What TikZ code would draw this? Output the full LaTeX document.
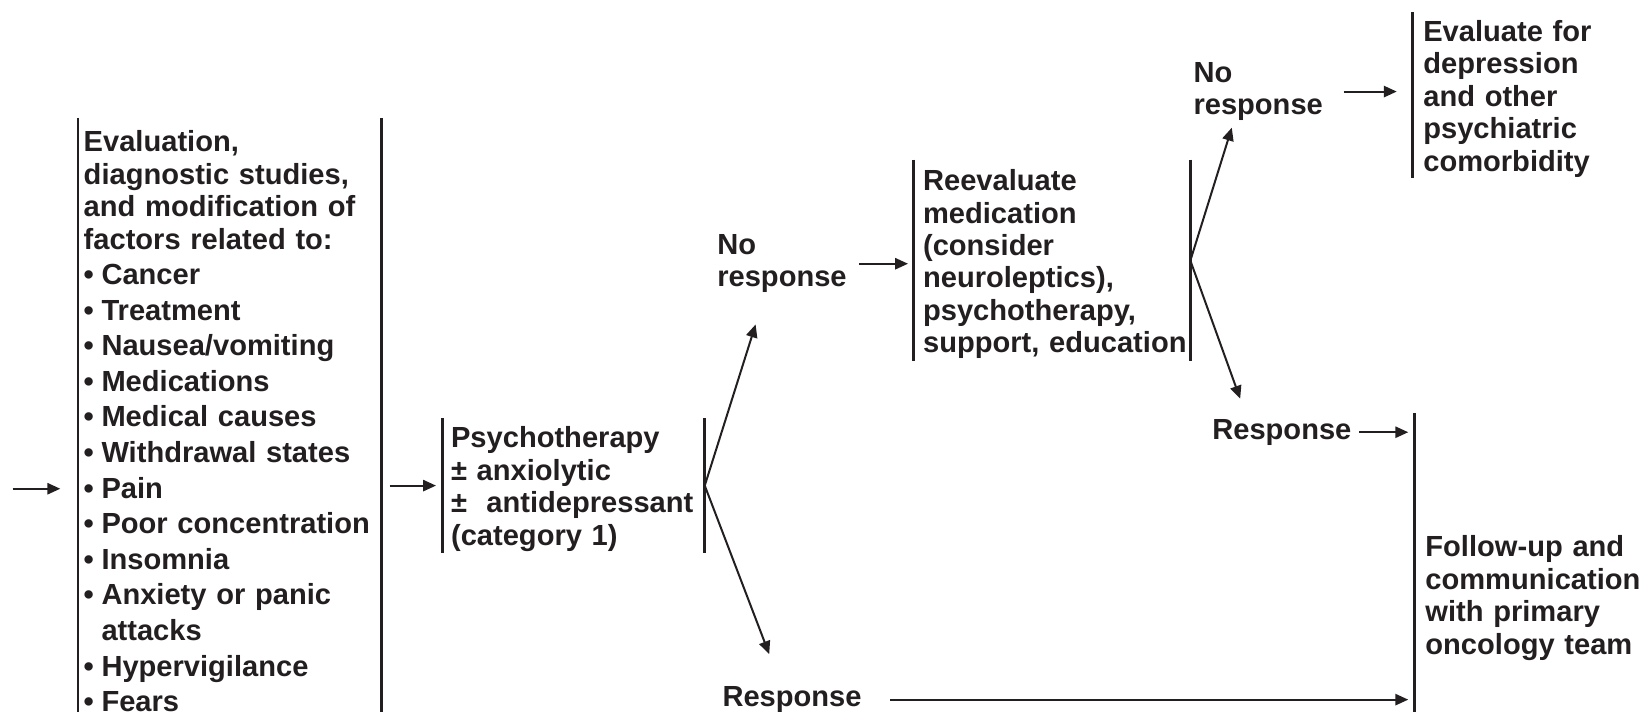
\documentclass[tikz,border=0pt]{standalone}
\usepackage{fontspec}
\setmainfont{Liberation Sans}
\usetikzlibrary{arrows.meta}
\definecolor{ink}{HTML}{231F20}
% bullet of fixed width, so wrapped items line up with the item text
\newcommand{\bul}{\makebox[8.5pt][l]{\textbullet}}
% a taller first line, which lowers the text a little inside its box
\newcommand{\lift}{\rule{0pt}{13.5pt}}
\begin{document}
\begin{tikzpicture}[x=0.5pt,y=-0.5pt,
  every node/.style={font=\fontsize{13.9pt}{15.5pt}\selectfont\bfseries, text=ink, inner sep=0pt},
  box/.style={align=left, inner ysep=0pt},
  bar/.style={draw=ink, line width=1.3pt},
  arr/.style={draw=ink, line width=0.95pt, -{Triangle[length=6.2pt,width=5.4pt]}},
]
\useasboundingbox (0,0) rectangle (1568,680);
\clip (0,0) rectangle (1568,680);

% boxes (vertical bars on the sides)
\node[box, text width=139.5pt, inner xsep=2.5pt, minimum height=289.5pt] (b1) at (219.5,402.5)
  {Evaluation,\\ diagnostic studies,\\ and modification of\\ factors related to:\\[1.5pt]
   \bul Cancer\\[1.5pt] \bul Treatment\\[1.5pt] \bul Nausea/vomiting\\[1.5pt]
   \bul Medications\\[1.5pt] \bul Medical causes\\[1.5pt] \bul Withdrawal states\\[1.5pt]
   \bul Pain\\[1.5pt] \bul Poor concentration\\[1.5pt] \bul Insomnia\\[1.5pt]
   \bul Anxiety or panic\\[1.5pt] \hspace*{8.5pt}attacks\\[1.5pt] \bul Hypervigilance\\[1.5pt]
   \bul Fears};
\node[box, text width=117pt, inner xsep=4pt, minimum height=64pt] (b2) at (548,464)
  {\lift Psychotherapy\\ ± anxiolytic\\ ±\ \ antidepressant\\ (category 1)};
\node[box, text width=123pt, inner xsep=4.5pt, minimum height=96pt] (b3) at (1005,249)
  {\lift Reevaluate\\ medication\\ (consider\\ neuroleptics),\\ psychotherapy,\\ \mbox{support, education}};
\node[box, text width=110pt, inner xsep=5pt, minimum height=79pt] (b4) at (1470,91)
  {\lift Evaluate for\\ depression\\ and other\\ psychiatric\\ comorbidity};
\node[box, text width=112pt, inner xsep=5pt, minimum height=173pt] (b5) at (1474,568)
  {\lift Follow-up and\\ communication\\ with primary\\ oncology team};

\foreach \b in {b1,b2,b3} {
  \draw[bar] (\b.north west) -- (\b.south west);
  \draw[bar] (\b.north east) -- (\b.south east);
}
\draw[bar] (b4.north west) -- (b4.south west);
\draw[bar] (b5.north west) -- (b5.south west);

% outcome labels
\node[align=left, anchor=west] (nr1) at (685,252) {No\\ response};
\node[anchor=west] (r1) at (690,668.5) {Response};
\node[align=left, anchor=west] (nr2) at (1140,87.5) {No\\ response};
\node[anchor=west] (r2) at (1158,413) {Response};

% arrow tips of the branches
\coordinate (src) at (12,467);
\coordinate (t1) at (722,310);
\coordinate (t2) at (735,625);
\coordinate (t3) at (1177,122);
\coordinate (t4) at (1185,381);

% connectors
\draw[arr, shorten >=8.5pt] (src) -- (src -| b1.west);
\draw[arr, shorten <=4pt, shorten >=3pt] (b2.west -| b1.east) -- (b2.west);
\draw[arr] (b2.east) -- (t1);
\draw[arr] (b2.east) -- (t2);
\draw[arr, shorten <=5.7pt, shorten >=2.5pt] (nr1.east) -- (nr1.east -| b3.west);
\draw[arr] (b3.east) -- (t3);
\draw[arr] (b3.east) -- (t4);
\draw[arr, shorten <=9.7pt, shorten >=7.5pt] (nr2.east) -- (nr2.east -| b4.west);
\draw[arr, shorten <=3.5pt, shorten >=3pt] (r2.east) -- (r2.east -| b5.west);
\draw[arr, shorten <=13.5pt, shorten >=3pt] (r1.east) -- (r1.east -| b5.west);
\end{tikzpicture}
\end{document}
